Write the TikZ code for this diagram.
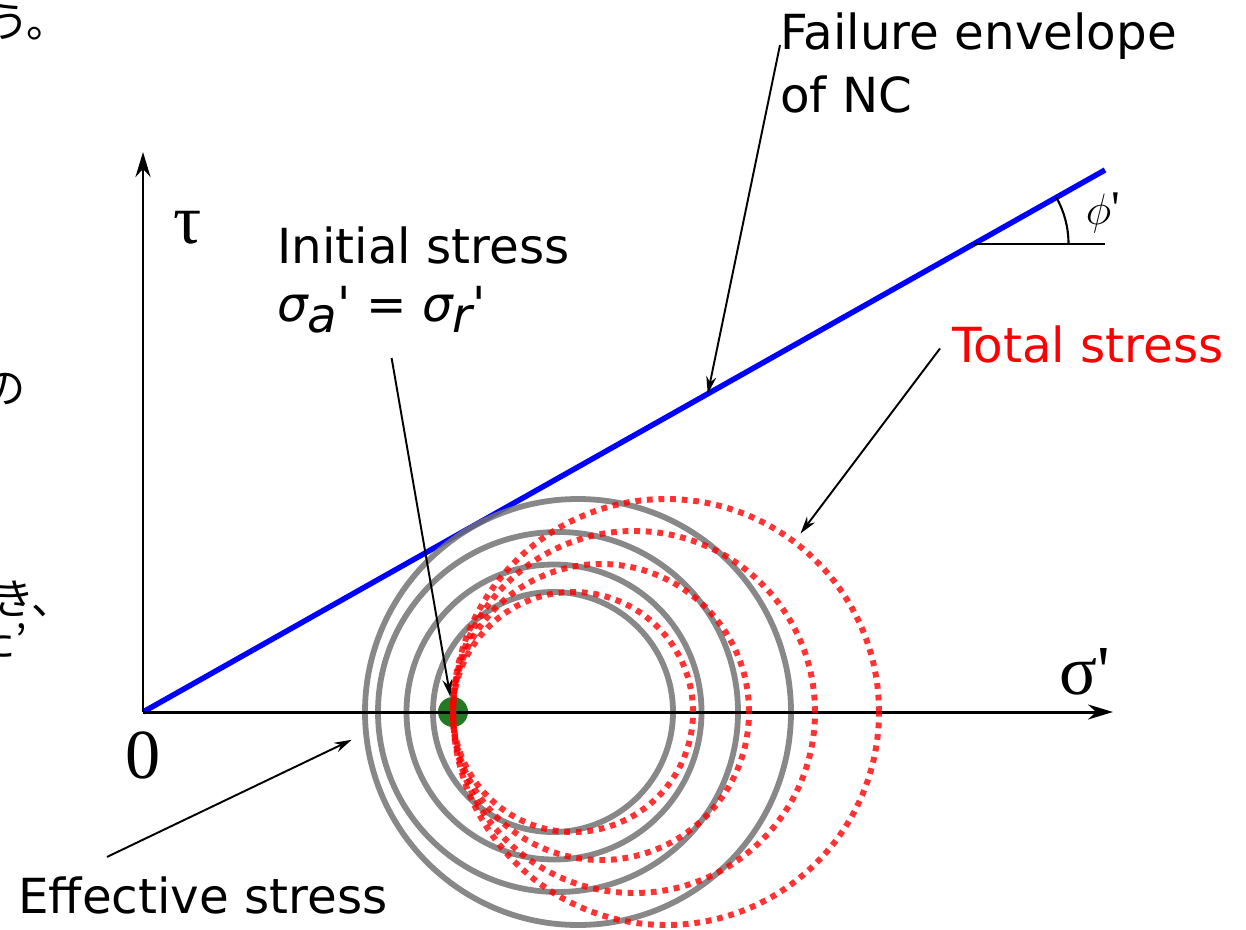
\documentclass[tikz,border=0pt]{standalone}
\usepackage{fontspec}
\setmainfont{DejaVu Sans}
\newfontfamily\serifrm{Liberation Serif}
\newfontfamily\jpfont{Noto Sans CJK JP}
\usepackage{xcolor}
\definecolor{initgreen}{RGB}{34,122,34}
\usetikzlibrary{arrows.meta, positioning, calc}

\begin{document}
\begin{tikzpicture}[
    lbl/.style={font=\fontsize{27.5}{36}\selectfont, inner sep=0pt},
    big/.style={font=\serifrm\fontsize{40}{40}\selectfont, inner sep=0pt},
    jp/.style={font=\jpfont\fontsize{24}{24}\selectfont, inner sep=0pt},
    axis/.style={-{Stealth[length=5mm, width=3mm]}, line width=1.7pt},
    envl/.style={blue, line width=3.1pt},
    effc/.style={gray!90!black, line width=3.3pt, opacity=0.85},
    totc/.style={red, line width=3.4pt, opacity=0.8, dash pattern=on 3.3pt off 3.3pt},
    dot/.style={circle, fill=initgreen, minimum size=6mm, inner sep=0pt},
    ann/.style={-{Stealth[length=3.5mm, width=2mm]}, line width=1.1pt},
    thinl/.style={line width=1.2pt},
  ]
  \useasboundingbox (-2.86,-4.34) rectangle (22.06,14.24);
  \coordinate (O) at (0,0);
  \coordinate (xend) at (19.4,0);
  \coordinate (yend) at (0,11.2);
  \coordinate (envend) at (19.24,10.84);
  \coordinate (envpt) at ($(O)!0.587!(envend)$);
  \draw[envl] (O) -- (envend);
  \foreach \n/\cx/\r in {1/8.2/2.4, 2/8.22/2.95, 3/8.3/3.6, 4/8.7/4.26}{
    \coordinate (gc\n) at (\cx,0);
    \draw[effc] (gc\n) circle (\r);}
  \node[dot] (init) at (6.2,0) {};
  \draw[axis] (O) -- (xend);
  \draw[axis] (O) -- (yend);
  \foreach \n/\r in {1/2.4, 2/2.96, 3/3.62, 4/4.26}{
    \coordinate (rc\n) at (6.2+\r,0);
    \draw[totc] (rc\n) circle (\r);}
  \coordinate (angpt) at (16.61,9.36);
  \coordinate (angend) at (19.24,9.36);
  \draw[thinl] (angpt) -- (angend);
  \draw[thinl] ($(angpt)+(1.9,0)$) arc (0:29.4:1.9);
  \node[lbl] (phi) at (19.2,9.98) {$\phi${\serifrm\textquotesingle}};
  \node[big] (tau) at (0.9,9.68) {τ};
  \node[big] (sig) at (18.84,0.8) {σ\textquotesingle};
  \node[big] (zero) at (0,-0.86) {0};
  \node[lbl, anchor=base west] (fail1) at (12.74,13.24) {Failure envelope};
  \node[lbl, anchor=base west] (fail2) at (12.74,11.98) {of NC};
  \node[lbl, anchor=base west] (initl) at (2.68,8.98) {Initial stress};
  \node[lbl, anchor=base west] (eq) at (2.68,7.82)
    {{\itshape σ\raisebox{-0.22cm}{a}}\textquotesingle{} = {\itshape σ\raisebox{-0.22cm}{r}}\textquotesingle};
  \node[lbl, anchor=base west, text=red] (tot) at (16.18,6.99) {Total stress};
  \node[lbl, anchor=base west] (eff) at (-2.5,-4.02) {Effective stress};
  \coordinate (effpt) at ($(gc4)+(187:4.56)$);
  \coordinate (totpt) at ($(rc4)+(53:4.47)$);
  \draw[ann] ([yshift=0.1cm]fail1.base west) -- (envpt);
  \draw[ann] ($(eq.south)+(0.2,-0.5)$) -- (init);
  \draw[ann] ([xshift=-0.24cm, yshift=-0.08cm]tot.west) -- (totpt);
  \draw[ann] ($(eff.north west)+(1.78,0.38)$) -- (effpt);
  \node[jp, anchor=base west] (jp1) at (-3.12,13.48) {う。};
  \node[jp, anchor=base west] (jp2) at (-3.2,6.18) {の};
  \node[jp, anchor=base west] (jp3) at (-3.02,1.96) {き、};
  \node[jp, anchor=base west] (jp4) at (-3.4,1.12) {た’};
\end{tikzpicture}
\end{document}
